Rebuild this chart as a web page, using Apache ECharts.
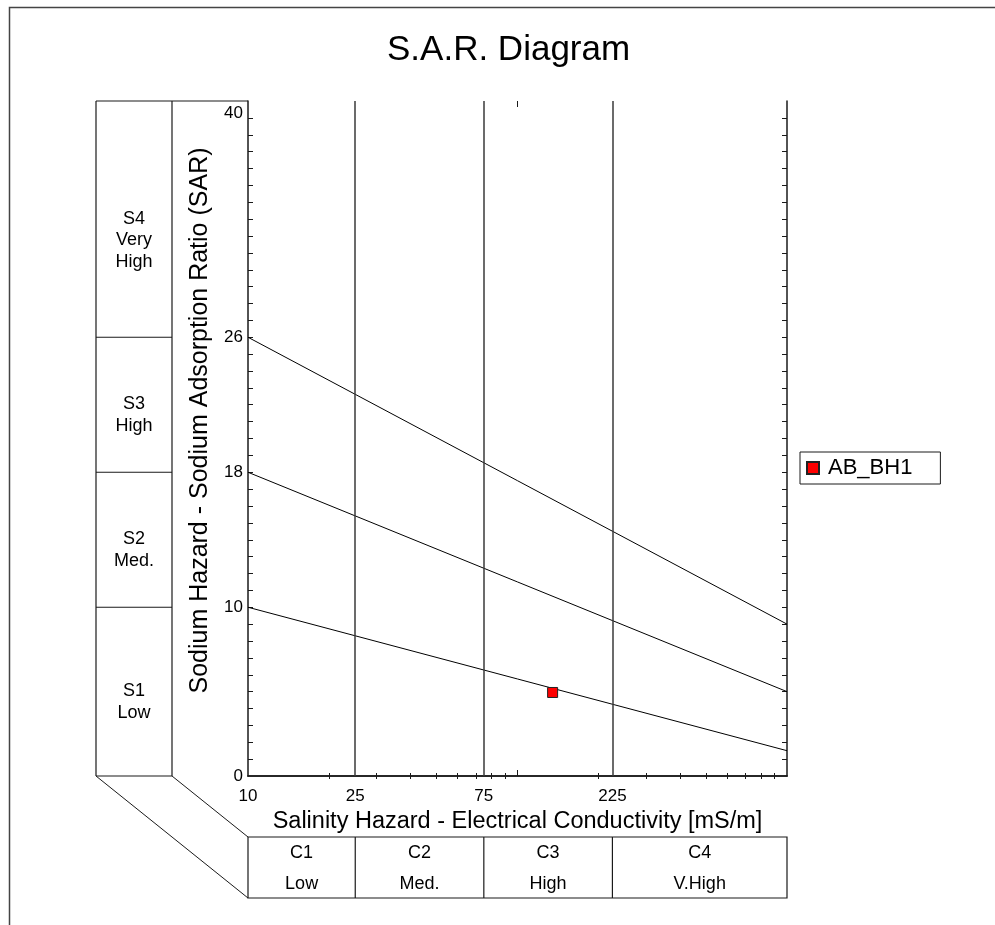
<!DOCTYPE html>
<html>
<head>
<meta charset="utf-8">
<title>S.A.R. Diagram</title>
<script src="https://cdn.jsdelivr.net/npm/echarts@6/dist/echarts.min.js"></script>
<style>
  html, body { margin: 0; padding: 0; background: #fff; }
  #chart { width: 995px; height: 925px; }
</style>
</head>
<body>
<div id="chart"></div>
<script>
// Sample plotted on the diagram: electrical conductivity [mS/m] and SAR
const sampleName = 'AB_BH1';
const sampleEC = [135];
const sampleSAR = [4.95];

// Sodium hazard class boundaries: SAR at the two ends of the EC range
const boundaryEC = [10, 1000];
const boundaryS1S2 = [10, 1.5];
const boundaryS2S3 = [18, 5];
const boundaryS3S4 = [26, 9];

// Salinity class limits drawn as vertical lines [mS/m]
const salinityLimits = [25, 75, 225];

// Axis labels and tick marks
const ecLabels = [10, 25, 75, 225];
const ecTicks = [20, 30, 40, 50, 60, 70, 80, 90, 200, 300, 400, 500, 600, 700, 800, 900];
const ecDecadeTicks = [100];
const sarLabels = [0, 10, 18, 26, 40];
const sarTicks = [1, 2, 3, 4, 5, 6, 7, 8, 9, 10, 11, 12, 13, 14, 15, 16, 17, 18, 19, 20,
                  21, 22, 23, 24, 25, 26, 27, 28, 29, 30, 31, 32, 33, 34, 35, 36, 37, 38, 39];

// Class panels beside and below the plot
const sodiumClasses = ['S1\nLow', 'S2\nMed.', 'S3\nHigh', 'S4\nVery\nHigh'];
const sodiumBounds = [0, 10, 18, 26, 40];
const salinityClasses = ['C1\nLow', 'C2\nMed.', 'C3\nHigh', 'C4\nV.High'];
const salinityBounds = [10, 25, 75, 225, 1000];

const FONT = '"Liberation Sans", Arial, sans-serif';
const INK = '#1a1a1a';

const chart = echarts.init(document.getElementById('chart'), null, { renderer: 'canvas' });

function pairs(xs, ys) {
  return xs.map((x, i) => [x, ys[i]]);
}

function boundarySeries(values) {
  return {
    type: 'line',
    data: pairs(boundaryEC, values),
    symbol: 'none',
    silent: true,
    animation: false,
    lineStyle: { color: '#000', width: 1 },
    z: 3
  };
}

const tickStyle = { color: INK, width: 1 };
const axisLineStyle = { color: INK, width: 1.5 };

function ecAxis(position, extra) {
  return Object.assign({
    type: 'log',
    logBase: 10,
    min: 10,
    max: 1000,
    position: position,
    axisLine: { show: true, lineStyle: axisLineStyle },
    axisTick: { show: true, inside: true, length: 3, customValues: ecTicks, lineStyle: tickStyle },
    axisLabel: { show: false },
    splitLine: { show: false },
    minorTick: { show: false }
  }, extra || {});
}

chart.setOption({
  animation: false,
  backgroundColor: '#fff',
  textStyle: { fontFamily: FONT },
  title: {
    text: 'S.A.R. Diagram',
    left: 382,
    top: 28,
    textStyle: { fontFamily: FONT, fontSize: 35, fontWeight: 'normal', color: '#000' }
  },
  legend: {
    data: [sampleName],
    left: 800,
    top: 452,
    orient: 'vertical',
    icon: 'rect',
    itemWidth: 12,
    itemHeight: 12,
    itemGap: 10,
    padding: [5, 28, 5, 6],
    borderColor: INK,
    borderWidth: 1,
    itemStyle: { opacity: 1 },
    textStyle: { fontFamily: FONT, fontSize: 22, color: '#000', padding: [1, 0, 0, 4] }
  },
  grid: { left: 248, right: 208, top: 101, bottom: 149, containLabel: false },
  xAxis: [
    ecAxis('bottom', {
      name: 'Salinity Hazard - Electrical Conductivity [mS/m]',
      nameLocation: 'middle',
      nameGap: 33,
      nameTextStyle: { fontFamily: FONT, fontSize: 23.5, color: '#000' },
      axisLabel: { show: true, customValues: ecLabels, fontFamily: FONT, fontSize: 17, color: '#000', margin: 12 }
    }),
    ecAxis('top'),
    // longer decade tick on the bottom edge
    ecAxis('bottom', {
      axisLine: { show: false },
      axisTick: { show: true, inside: true, length: 6, customValues: ecDecadeTicks, lineStyle: tickStyle }
    }),
    ecAxis('top', {
      axisLine: { show: false },
      axisTick: { show: true, inside: true, length: 6, customValues: ecDecadeTicks, lineStyle: tickStyle }
    })
  ],
  yAxis: [
    {
      type: 'value',
      min: 0,
      max: 40,
      position: 'left',
      name: 'Sodium Hazard - Sodium Adsorption Ratio (SAR)',
      nameLocation: 'middle',
      nameGap: 35,
      nameTextStyle: { fontFamily: FONT, fontSize: 25, color: '#000', padding: [0, 0, 0, 36] },
      axisLine: { show: true, lineStyle: axisLineStyle },
      axisTick: { show: true, inside: true, length: 5, customValues: sarTicks, lineStyle: tickStyle },
      axisLabel: {
        customValues: sarLabels,
        fontFamily: FONT,
        fontSize: 17,
        color: '#000',
        margin: 5,
        formatter: v => (v === 40 ? '{top|40}' : String(v)),
        rich: { top: { fontFamily: FONT, fontSize: 17, color: '#000', padding: [24, 0, 0, 0] } }
      },
      splitLine: { show: false }
    },
    {
      type: 'value',
      min: 0,
      max: 40,
      position: 'right',
      axisLine: { show: true, lineStyle: axisLineStyle },
      axisTick: { show: true, inside: true, length: 5, customValues: sarTicks, lineStyle: tickStyle },
      axisLabel: { show: false },
      splitLine: { show: false }
    }
  ],
  series: [
    boundarySeries(boundaryS1S2),
    boundarySeries(boundaryS2S3),
    boundarySeries(boundaryS3S4),
    {
      type: 'line',
      data: [],
      silent: true,
      markLine: {
        silent: true,
        symbol: ['none', 'none'],
        label: { show: false },
        lineStyle: { type: 'solid', color: '#3a3a3a', width: 1.5 },
        data: salinityLimits.map(v => ({ xAxis: v }))
      },
      z: 2
    },
    {
      name: sampleName,
      type: 'scatter',
      data: pairs(sampleEC, sampleSAR),
      symbol: 'rect',
      symbolSize: 10,
      itemStyle: { color: '#ff0000', borderColor: '#222', borderWidth: 1, opacity: 1 },
      z: 5
    }
  ]
});

// Class panels: sodium classes to the left, salinity classes below, joined by oblique lines
function drawPanels() {
  const px = v => chart.convertToPixel({ xAxisIndex: 0 }, v);
  const py = v => chart.convertToPixel({ yAxisIndex: 0 }, v);

  const colLeft = 96;
  const colMid = 172;
  const axisX = px(10);
  const yTop = py(40);
  const yBottom = py(0);
  const cTop = 837;
  const cBottom = 898;
  const els = [];

  const line = (x1, y1, x2, y2, lw) => els.push({
    type: 'line',
    shape: { x1, y1, x2, y2 },
    style: { stroke: INK, lineWidth: lw || 1.2 },
    silent: true
  });

  // outer page frame
  els.push({
    type: 'rect',
    shape: { x: 9.5, y: 7.5, width: 1000, height: 1000 },
    style: { fill: 'none', stroke: '#444', lineWidth: 1.5 },
    silent: true
  });

  // sodium panel columns
  line(colLeft, yTop, axisX, yTop);
  line(colLeft, yTop, colLeft, yBottom);
  line(colMid, yTop, colMid, yBottom);
  line(colLeft, yBottom, colMid, yBottom);
  for (let i = 1; i < sodiumBounds.length - 1; i++) {
    const y = py(sodiumBounds[i]);
    line(colLeft, y, colMid, y);
  }
  sodiumClasses.forEach((label, i) => {
    const yMid = (py(sodiumBounds[i]) + py(sodiumBounds[i + 1])) / 2;
    els.push({
      type: 'text',
      x: (colLeft + colMid) / 2,
      y: yMid - 11,
      silent: true,
      style: {
        text: label,
        fontFamily: FONT,
        fontSize: 18,
        lineHeight: 21.5,
        fill: '#000',
        align: 'center',
        verticalAlign: 'top'
      }
    });
  });

  // oblique connectors
  line(colLeft, yBottom, axisX, cBottom, 1);
  line(colMid, yBottom, axisX, cTop, 1);

  // salinity panel
  els.push({
    type: 'rect',
    shape: { x: axisX, y: cTop, width: px(1000) - axisX, height: cBottom - cTop },
    style: { fill: 'none', stroke: INK, lineWidth: 1.2 },
    silent: true
  });
  for (let i = 1; i < salinityBounds.length - 1; i++) {
    const x = px(salinityBounds[i]);
    line(x, cTop, x, cBottom);
  }
  salinityClasses.forEach((label, i) => {
    const xMid = (px(salinityBounds[i]) + px(salinityBounds[i + 1])) / 2;
    els.push({
      type: 'text',
      x: xMid,
      y: (cTop + cBottom) / 2 + 1,
      silent: true,
      style: {
        text: label,
        fontFamily: FONT,
        fontSize: 18,
        lineHeight: 31,
        fill: '#000',
        align: 'center',
        verticalAlign: 'middle'
      }
    });
  });

  chart.setOption({ graphic: els });
}

drawPanels();
</script>
</body>
</html>
